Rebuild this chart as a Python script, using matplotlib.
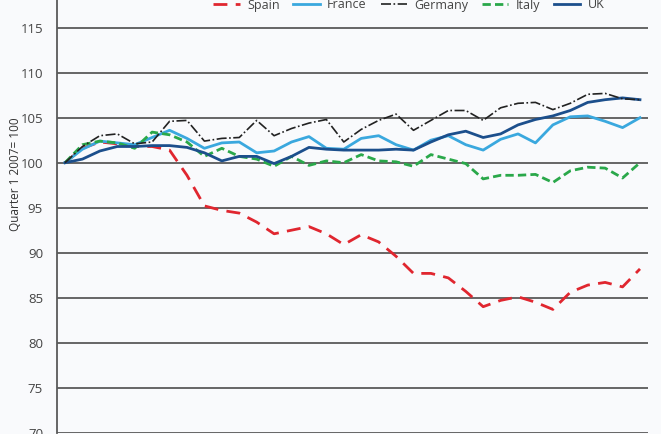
import matplotlib
matplotlib.use('Agg')
from matplotlib import pyplot as plt

plt.rcParams['font.family'] = ['Open Sans', 'DejaVu Sans']

# quarters from Q1 2007 to Q2 2015
quarters = ['%d Q%d' % (y, q) for y in range(2007, 2016) for q in range(1, 5)][:34]

spain = [100, 101.6, 102.3, 102.1, 101.8, 101.8, 101.4, 98.6, 95.2, 94.7, 94.4, 93.4,
         92.1, 92.5, 92.9, 92.1, 90.9, 92.0, 91.2, 89.6, 87.7, 87.7, 87.2, 85.7,
         84.0, 84.7, 85.1, 84.5, 83.7, 85.6, 86.4, 86.7, 86.2, 88.2]
france = [100, 101.5, 102.4, 102.2, 102.0, 102.8, 103.6, 102.7, 101.6, 102.2, 102.3, 101.1,
          101.3, 102.3, 102.9, 101.6, 101.5, 102.7, 103.0, 102.0, 101.4, 102.5, 103.0, 102.0,
          101.4, 102.6, 103.2, 102.2, 104.2, 105.1, 105.2, 104.6, 103.9, 105.0]
germany = [100, 101.8, 103.0, 103.2, 102.1, 102.3, 104.6, 104.7, 102.4, 102.7, 102.8, 104.7,
           103.0, 103.8, 104.4, 104.8, 102.3, 103.7, 104.7, 105.4, 103.6, 104.7, 105.8, 105.8,
           104.7, 106.1, 106.6, 106.7, 105.9, 106.6, 107.6, 107.7, 107.1, 107.0]
italy = [100, 102.0, 102.4, 102.2, 101.6, 103.4, 103.1, 102.3, 100.7, 101.6, 100.7, 100.4,
         99.6, 100.7, 99.7, 100.2, 100.0, 100.9, 100.2, 100.1, 99.6, 100.9, 100.4, 99.9,
         98.2, 98.6, 98.6, 98.7, 97.8, 99.1, 99.5, 99.4, 98.3, 100.0]
uk = [100, 100.4, 101.3, 101.8, 101.8, 101.9, 101.9, 101.7, 101.1, 100.2, 100.7, 100.7,
      99.9, 100.7, 101.7, 101.5, 101.4, 101.4, 101.4, 101.5, 101.4, 102.3, 103.1, 103.5,
      102.8, 103.2, 104.2, 104.8, 105.2, 105.8, 106.7, 107.0, 107.2, 107.0]

yticks = [70, 75, 80, 85, 90, 95, 100, 105, 110, 115]

bg = '#f9fafc'
x = list(range(len(quarters)))

fig = plt.figure(figsize=(6.61, 4.34), dpi=100, facecolor=bg)
ax = fig.add_axes([57 / 661, 1.3 / 434, 591 / 661, 432.7 / 434], facecolor=bg)

for t in yticks:
    ax.axhline(t, color='#5a5a5a', linewidth=1.3, zorder=1)

ax.plot(x, spain, color='#e0262f', linewidth=2, dashes=(5, 3), label='Spain', zorder=3)
ax.plot(x, france, color='#3aa8de', linewidth=2, label='France', zorder=3)
ax.plot(x, germany, color='#222222', linewidth=1.2, dashes=(6, 1.5, 1, 1.5), label='Germany', zorder=4)
ax.plot(x, italy, color='#2aa84a', linewidth=2, dashes=(3, 1.5), label='Italy', zorder=3)
ax.plot(x, uk, color='#1c4f8c', linewidth=2, label='UK', zorder=3)

ax.set_xlim(-0.46, 33.46)
ax.set_ylim(70, 70 + 432.7 / 9)
ax.set_yticks(yticks)
ax.set_xticks([])
ax.tick_params(axis='y', length=0, pad=10, labelsize=9.5, labelcolor='#444444')
for s in ['top', 'right', 'bottom']:
    ax.spines[s].set_visible(False)
ax.spines['left'].set_color('#5a5a5a')
ax.spines['left'].set_linewidth(1.3)

fig.text(16 / 661, 1 - 174 / 434, 'Quarter 1 2007= 100', rotation=90, ha='center', va='center',
         fontsize=8.5, color='#333333')

leg = ax.legend(ncol=5, loc='center', bbox_to_anchor=(409 / 661, 1 - 5 / 434),
                bbox_transform=fig.transFigure, frameon=False, fontsize=9,
                handlelength=2.1, columnspacing=1.1, handletextpad=0.6)
for t in leg.get_texts():
    t.set_color('#444444')

fig.savefig('out.png', dpi=100, facecolor=bg)
